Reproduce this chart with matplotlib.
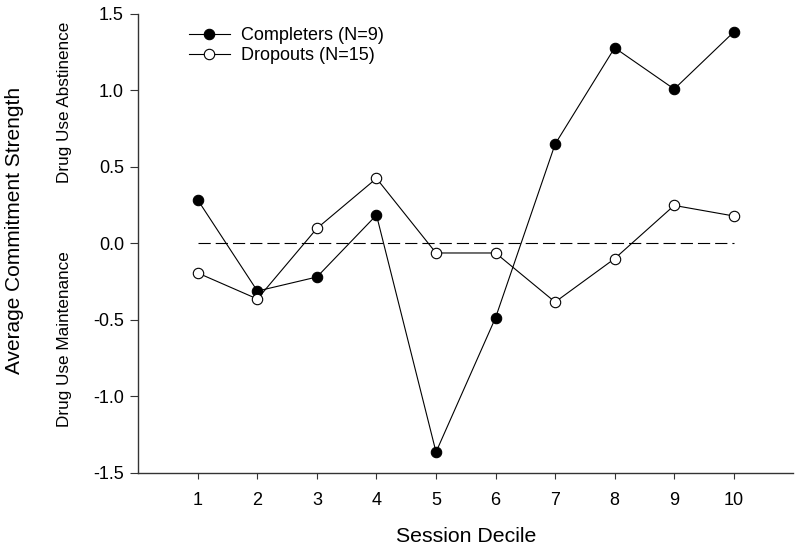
import matplotlib
matplotlib.use("Agg")
import matplotlib.pyplot as plt

plt.rcParams['font.family'] = ['Liberation Sans', 'DejaVu Sans']

deciles = [1, 2, 3, 4, 5, 6, 7, 8, 9, 10]
completers = [0.283, -0.312, -0.220, 0.185, -1.365, -0.486, 0.649, 1.279, 1.009, 1.382]
dropouts = [-0.194, -0.364, 0.098, 0.425, -0.063, -0.063, -0.384, -0.100, 0.248, 0.179]
yticks = [-1.5, -1.0, -0.5, 0.0, 0.5, 1.0, 1.5]
ytick_labels = ["-1.5", "-1.0", "-0.5", "0.0", "0.5", "1.0", "1.5"]

fig = plt.figure(figsize=(8.0, 5.51), dpi=100)
ax = fig.add_axes([138.3 / 800, 1 - 472.7 / 551, (793.3 - 138.3) / 800, (472.7 - 14) / 551])

ax.hlines(0, deciles[0], deciles[-1], colors='black', linewidth=0.8,
          linestyles=(0, (11, 4.5)), zorder=1)

ax.plot(deciles, completers, color='black', linewidth=0.8, marker='o',
        markersize=7.5, markerfacecolor='black', markeredgecolor='black',
        markeredgewidth=0.8, label='Completers (N=9)', zorder=3)
ax.plot(deciles, dropouts, color='black', linewidth=0.8, marker='o',
        markersize=7.5, markerfacecolor='white', markeredgecolor='black',
        markeredgewidth=0.8, label='Dropouts (N=15)', zorder=3)

ax.set_xlim(0, 11)
ax.set_ylim(-1.5, 1.5)
ax.set_xticks(deciles)
ax.set_xticklabels([str(d) for d in deciles])
ax.set_yticks(yticks)
ax.set_yticklabels(ytick_labels)

for s in ['top', 'right']:
    ax.spines[s].set_visible(False)
for s in ['left', 'bottom']:
    ax.spines[s].set_color('#333333')
    ax.spines[s].set_linewidth(1.0)

ax.tick_params(axis='both', direction='out', width=0.8,
               color='#333333', labelsize=13)
ax.tick_params(axis='x', length=4.3, pad=9.5)
ax.tick_params(axis='y', length=5.5, pad=4.8)

leg = ax.legend(loc='upper left', bbox_to_anchor=(0.077, 0.972), frameon=False,
                fontsize=13, handlelength=2.27, handletextpad=0.61,
                labelspacing=0.2, borderaxespad=0, borderpad=0)

fig.text(15 / 800, 1 - 230 / 551, 'Average Commitment Strength', rotation=90,
         ha='center', va='center', fontsize=15)
fig.text(65 / 800, 1 - 102 / 551, 'Drug Use Abstinence', rotation=90,
         ha='center', va='center', fontsize=12.3)
fig.text(65 / 800, 1 - 339 / 551, 'Drug Use Maintenance', rotation=90,
         ha='center', va='center', fontsize=12.3)
fig.text(466 / 800, 1 - 536 / 551, 'Session Decile', ha='center', va='center',
         fontsize=15.3)

fig.savefig('out.png', dpi=100)
